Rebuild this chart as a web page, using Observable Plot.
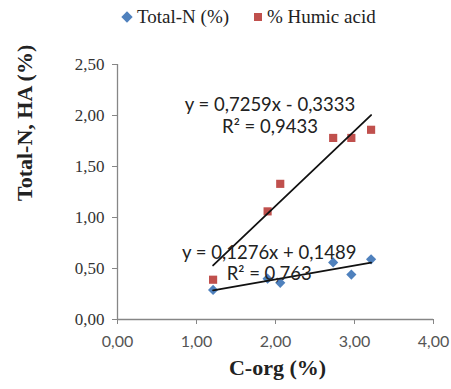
<!DOCTYPE html>
<html>
<head>
<meta charset="utf-8">
<script src="https://cdn.jsdelivr.net/npm/d3@7"></script>
<script src="https://cdn.jsdelivr.net/npm/@observablehq/plot@0.6"></script>
<style>
  html, body { margin: 0; padding: 0; background: #fff; }
  #wrap { position: relative; width: 451px; height: 389px; }
  #legend { position: relative; height: 40px; width: 451px; font-family: "Liberation Serif", serif; font-size: 19px; color: #222; }
  #legend .item { position: absolute; top: 6px; line-height: 22px; white-space: nowrap; }
  #legend .sym { position: absolute; }
</style>
</head>
<body>
<div id="wrap">
  <div id="legend"></div>
  <div id="chart"></div>
</div>
<script>
// C-org (%) for each sample
const cOrg = [1.21, 1.90, 2.06, 2.73, 2.96, 3.21];
// Total-N (%)
const totalN = [0.29, 0.40, 0.36, 0.56, 0.44, 0.59];
// % Humic acid
const humicAcid = [0.39, 1.06, 1.33, 1.78, 1.78, 1.86];
// series names
const seriesNames = ["Total-N (%)", "% Humic acid"];
// tick values
const xTicks = [0, 1, 2, 3, 4];
const yTicks = [0, 0.5, 1, 1.5, 2, 2.5];
// trendline annotations
const eqLabels = [
  {x: 1.93, y: 2.10, text: "y = 0,7259x - 0,3333"},
  {x: 1.93, y: 1.89, text: "R² = 0,9433"},
  {x: 1.92, y: 0.647, text: "y = 0,1276x + 0,1489"},
  {x: 1.92, y: 0.444, text: "R² = 0,763"}
];

const blue = "#4F81BD", red = "#C0504D";
const fmt = d => d.toFixed(2).replace(".", ",");

const nData = cOrg.map((x, i) => ({x, y: totalN[i]}));
const haData = cOrg.map((x, i) => ({x, y: humicAcid[i]}));

// Legend
const legend = document.getElementById("legend");
legend.innerHTML = `
  <svg class="sym" style="left:121px;top:11px" width="12" height="12"><rect x="2" y="2" width="8" height="8" fill="${blue}" transform="rotate(45 6 6)"/></svg>
  <div class="item" style="left:137px">${seriesNames[0]}</div>
  <svg class="sym" style="left:254px;top:13px" width="9" height="9"><rect x="0" y="0" width="8" height="8" fill="${red}"/></svg>
  <div class="item" style="left:267px">${seriesNames[1]}</div>`;

const axisColor = "#868686";
const chart = Plot.plot({
  width: 451,
  height: 349,
  marginTop: 24,
  marginBottom: 70,
  marginLeft: 117,
  marginRight: 18,
  x: {domain: [0, 4]},
  y: {domain: [0, 2.5]},
  style: {background: "#fff"},
  marks: [
    Plot.ruleX([0], {stroke: axisColor, strokeWidth: 1.3}),
    Plot.ruleY([0], {stroke: axisColor, strokeWidth: 1.3}),
    Plot.axisY(yTicks, {tickSize: 5, tickPadding: 8, stroke: axisColor, tickFormat: fmt, label: null,
      fontSize: 17, fontFamily: "Liberation Serif", fill: "#333"}),
    Plot.axisX(xTicks, {tickSize: 5, tickPadding: 11, stroke: axisColor, tickFormat: fmt, label: null,
      fontSize: 16, fontFamily: "Lato", fill: "#555"}),
    Plot.dot(nData, {x: "x", y: "y", symbol: "diamond2", r: 4.6, fill: blue, stroke: "none"}),
    Plot.dot(haData, {x: "x", y: "y", symbol: "square", r: 4.6, fill: red, stroke: "none"}),
    Plot.linearRegressionY(haData, {x: "x", y: "y", stroke: "#111", strokeWidth: 1.8, ci: 0}),
    Plot.linearRegressionY(nData, {x: "x", y: "y", stroke: "#111", strokeWidth: 1.8, ci: 0}),
    Plot.text(eqLabels, {x: "x", y: "y", text: "text", fontSize: 18.5, fontFamily: "Lato", fill: "#222"}),
    Plot.text(["Total-N, HA (%)"], {frameAnchor: "left", text: d => d, rotate: -90, dx: -93, dy: 9,
      fontSize: 22, fontWeight: "bold", fontFamily: "Liberation Serif", fill: "#222"}),
    Plot.text(["C-org (%)"], {frameAnchor: "bottom", text: d => d, dy: 55, dx: 2,
      fontSize: 22, fontWeight: "bold", fontFamily: "Liberation Serif", fill: "#222"})
  ]
});
document.getElementById("chart").appendChild(chart);
</script>
</body>
</html>
